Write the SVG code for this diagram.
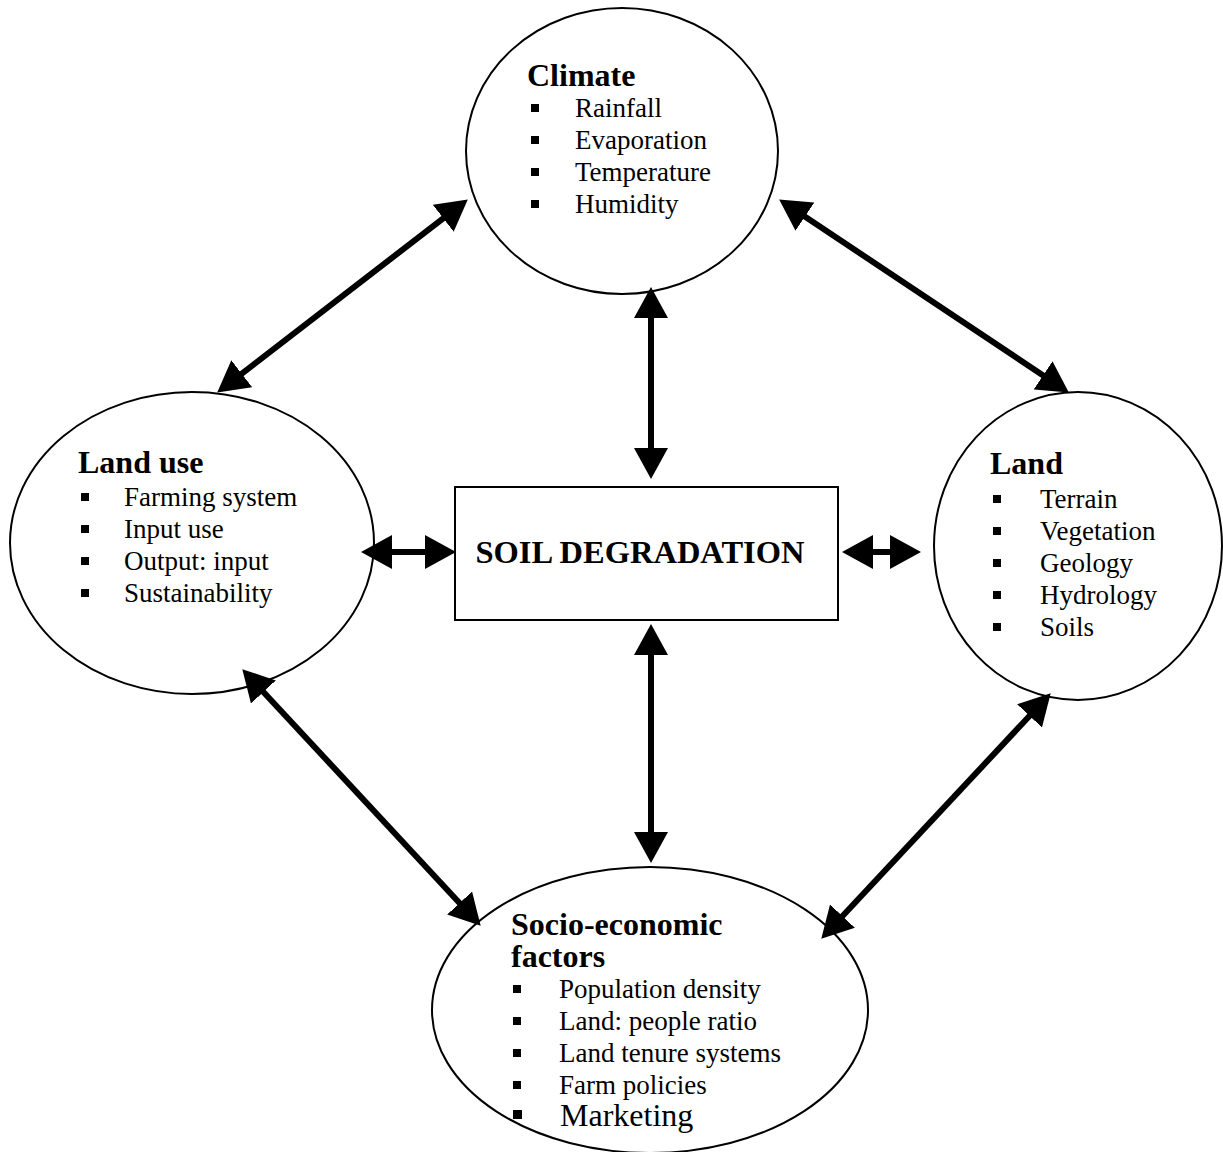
<svg xmlns="http://www.w3.org/2000/svg" width="1223" height="1152" viewBox="0 0 1223 1152">
<style>
.shape{fill:#fff;stroke:#000;stroke-width:2}
.title{font-family:"Liberation Serif","Times New Roman",serif;font-weight:bold;font-size:32px;fill:#000}
.item{font-family:"Liberation Serif","Times New Roman",serif;font-size:27px;fill:#000}
.big{font-family:"Liberation Serif","Times New Roman",serif;font-size:32px;fill:#000}
.center{font-family:"Liberation Serif","Times New Roman",serif;font-weight:bold;font-size:32.5px;fill:#000}
.conn{stroke:#000;stroke-width:6;fill:none;marker-start:url(#head);marker-end:url(#head)}
</style>
<defs>
<marker id="head" markerUnits="userSpaceOnUse" markerWidth="32" markerHeight="34" refX="20" refY="17" orient="auto-start-reverse" viewBox="0 0 32 34">
<path d="M0,0 L31,17 L0,34 z" fill="#000"/>
</marker>
<rect id="b" width="8" height="8" fill="#000"/>
</defs>

<g id="climate">
<ellipse class="shape" cx="622" cy="151" rx="156" ry="143"/>
<text class="title" x="527" y="86">Climate</text>
<use href="#b" x="531" y="104"/><text class="item" x="575" y="117">Rainfall</text>
<use href="#b" x="531" y="136"/><text class="item" x="575" y="149">Evaporation</text>
<use href="#b" x="531" y="168"/><text class="item" x="575" y="181">Temperature</text>
<use href="#b" x="531" y="200"/><text class="item" x="575" y="213">Humidity</text>
</g>

<g id="landuse">
<ellipse class="shape" cx="192" cy="543" rx="182" ry="151"/>
<text class="title" x="78" y="473">Land use</text>
<use href="#b" x="81" y="493"/><text class="item" x="124" y="506">Farming system</text>
<use href="#b" x="81" y="525"/><text class="item" x="124" y="538">Input use</text>
<use href="#b" x="81" y="557"/><text class="item" x="124" y="570">Output: input</text>
<use href="#b" x="81" y="589"/><text class="item" x="124" y="602">Sustainability</text>
</g>

<g id="land">
<ellipse class="shape" cx="1078" cy="546" rx="144" ry="154"/>
<text class="title" x="990" y="474">Land</text>
<use href="#b" x="993" y="495"/><text class="item" x="1040" y="508">Terrain</text>
<use href="#b" x="993" y="527"/><text class="item" x="1040" y="540">Vegetation</text>
<use href="#b" x="993" y="559"/><text class="item" x="1040" y="572">Geology</text>
<use href="#b" x="993" y="591"/><text class="item" x="1040" y="604">Hydrology</text>
<use href="#b" x="993" y="623"/><text class="item" x="1040" y="636">Soils</text>
</g>

<g id="socio">
<ellipse class="shape" cx="650" cy="1010" rx="218" ry="143"/>
<text class="title" x="511" y="935"><tspan x="511" y="935">Socio-economic</tspan><tspan x="511" y="967">factors</tspan></text>
<use href="#b" x="513" y="985"/><text class="item" x="559" y="998">Population density</text>
<use href="#b" x="513" y="1017"/><text class="item" x="559" y="1030">Land: people ratio</text>
<use href="#b" x="513" y="1049"/><text class="item" x="559" y="1062">Land tenure systems</text>
<use href="#b" x="513" y="1081"/><text class="item" x="559" y="1094">Farm policies</text>
<rect x="513" y="1110" width="9" height="9" fill="#000"/><text class="big" x="560" y="1126">Marketing</text>
</g>

<g id="soil">
<rect class="shape" x="455" y="487" width="383" height="133"/>
<text class="center" x="640" y="563" text-anchor="middle">SOIL DEGRADATION</text>
</g>

<g id="connectors">
<line class="conn" x1="459.1" y1="206.1" x2="225.9" y2="385.9"/>
<line class="conn" x1="788.3" y1="205.5" x2="1059.7" y2="386.5"/>
<line class="conn" x1="249.8" y1="677.3" x2="473.2" y2="917.7"/>
<line class="conn" x1="1043.2" y1="701.3" x2="828.8" y2="930.7"/>
<line class="conn" x1="651" y1="298" x2="651" y2="468"/>
<line class="conn" x1="651" y1="635" x2="651" y2="852"/>
<line class="conn" x1="372" y1="552" x2="445" y2="552"/>
<line class="conn" x1="853" y1="552" x2="910" y2="552"/>
</g>
</svg>
